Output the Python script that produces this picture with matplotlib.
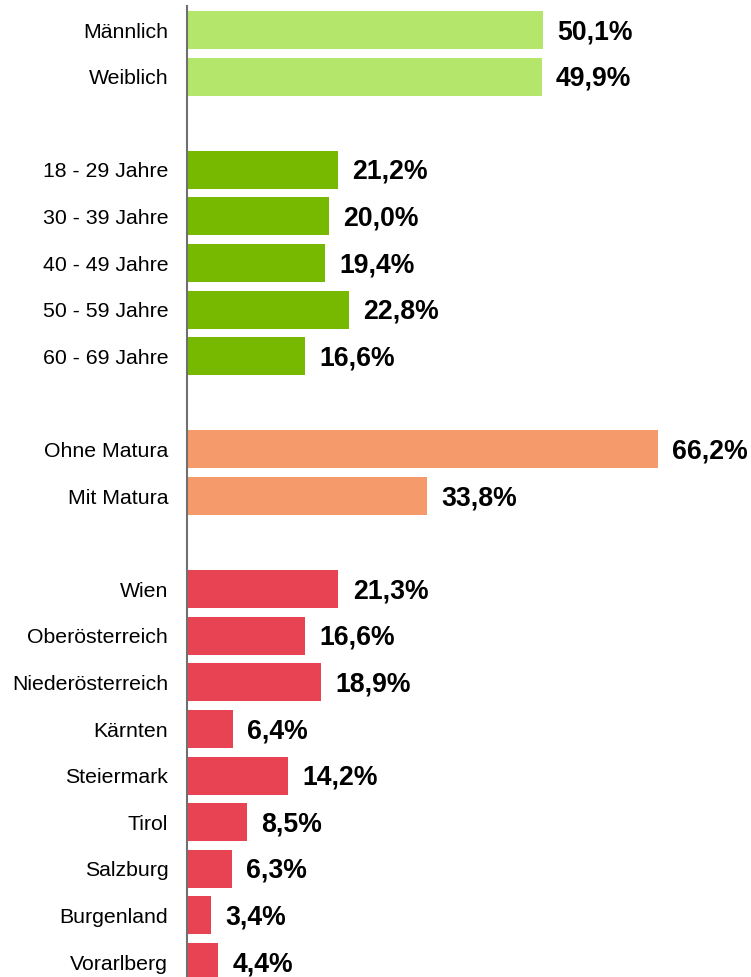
import matplotlib.pyplot as plt

# data per group
gender_labels = ["Männlich", "Weiblich"]
gender_values = [50.1, 49.9]

age_labels = ["18 - 29 Jahre", "30 - 39 Jahre", "40 - 49 Jahre", "50 - 59 Jahre", "60 - 69 Jahre"]
age_values = [21.2, 20.0, 19.4, 22.8, 16.6]

edu_labels = ["Ohne Matura", "Mit Matura"]
edu_values = [66.2, 33.8]

state_labels = ["Wien", "Oberösterreich", "Niederösterreich", "Kärnten", "Steiermark",
                "Tirol", "Salzburg", "Burgenland", "Vorarlberg"]
state_values = [21.3, 16.6, 18.9, 6.4, 14.2, 8.5, 6.3, 3.4, 4.4]

groups = [
    (gender_labels, gender_values, "#b3e66b"),
    (age_labels, age_values, "#77b900"),
    (edu_labels, edu_values, "#f59a6a"),
    (state_labels, state_values, "#e84352"),
]

plt.rcParams["font.family"] = ["Liberation Sans", "DejaVu Sans"]

fig = plt.figure(figsize=(7.51, 9.77), dpi=100)
ax = fig.add_axes([0.249, 0.0, 0.751, 971 / 977])

positions = []
labels = []
pos = 0
for names, values, color in groups:
    ys = list(range(pos, pos + len(names)))
    ax.barh(ys, values, height=0.815, color=color)
    # value label next to each bar
    for y, v in zip(ys, values):
        ax.annotate(f"{v:.1f}%".replace(".", ","), (v, y), xytext=(10.2, -1.5),
                    textcoords="offset points", va="center", ha="left",
                    fontsize=19.2, fontweight="bold")
    positions += ys
    labels += names
    pos += len(names) + 1  # blank row between groups

ax.set_yticks(positions)
ax.set_yticklabels(labels, fontsize=15.3)
ax.tick_params(axis="y", length=0, pad=13.5)
ax.set_xticks([])
ax.set_xlim(0, 79.3)
ax.set_ylim(20.32, -0.515)

for side in ["top", "right", "bottom"]:
    ax.spines[side].set_visible(False)
ax.spines["left"].set_color("#707070")
ax.spines["left"].set_linewidth(1.5)

plt.savefig("out.png", dpi=100)
